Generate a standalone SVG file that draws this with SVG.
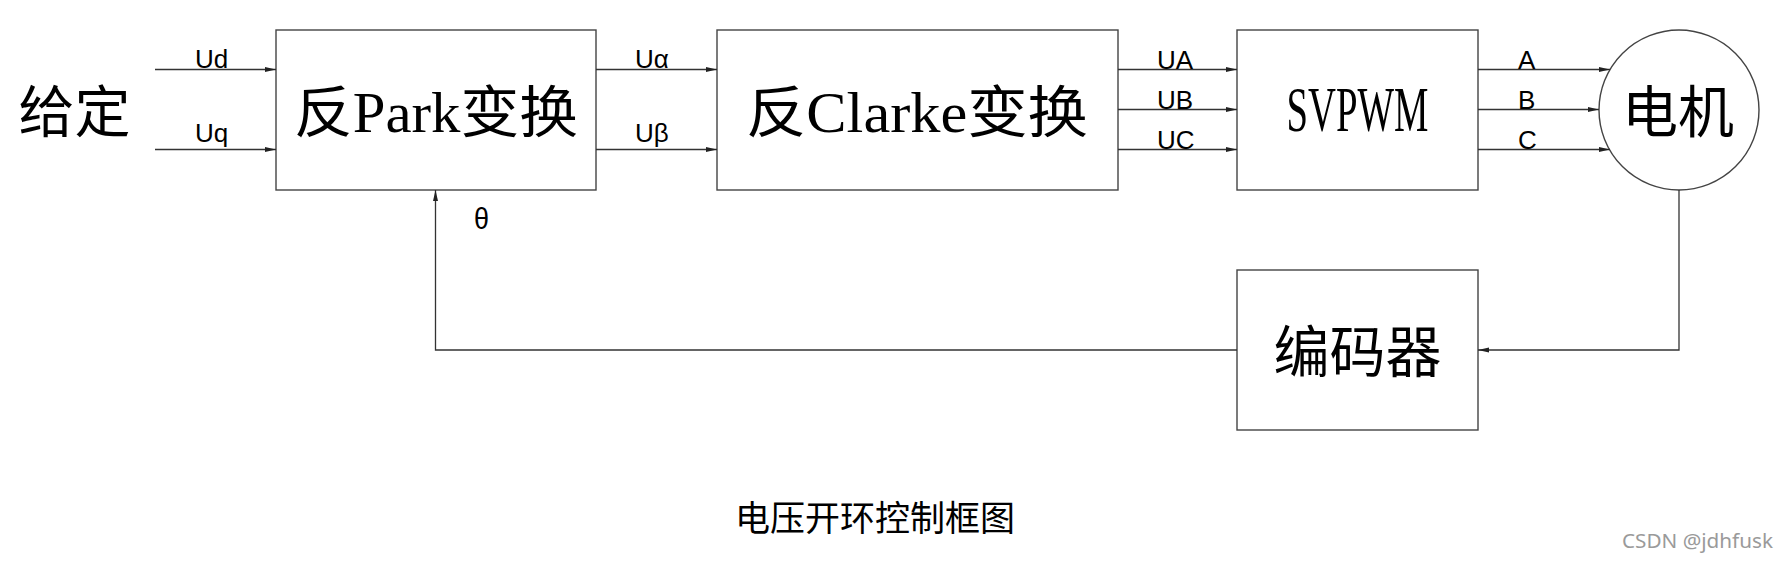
<svg xmlns="http://www.w3.org/2000/svg" width="1779" height="563" viewBox="0 0 1779 563">
  <defs>
    <marker id="arr" markerUnits="userSpaceOnUse" markerWidth="12" markerHeight="6" refX="11" refY="2.5" orient="auto">
      <path d="M0,0 L11,2.5 L0,5 z" fill="#222"/>
    </marker>
    <style>
      .box { fill: #fff; stroke: #444; stroke-width: 1.4; }
      .ln { fill: none; stroke: #333; stroke-width: 1.3; }
      .big { font-family: "Liberation Serif", "Noto Sans CJK SC", serif; font-size: 56px; fill: #000; text-anchor: middle; }
      .lbl { font-family: "Liberation Sans", Arial, sans-serif; font-size: 26px; fill: #000; }
      .title { font-family: "Noto Sans CJK SC", sans-serif; font-size: 35px; fill: #000; text-anchor: middle; }
      .wm { font-family: "Noto Sans", "Open Sans", sans-serif; font-size: 19px; fill: #9a9a9a; }
    </style>
  </defs>
  <rect width="1779" height="563" fill="#fff"/>

  <g id="given">
    <text class="big" x="74.5" y="132">给定</text>
  </g>

  <g id="inv-park">
    <rect class="box" x="276" y="30" width="320" height="160"/>
    <text class="big" x="436" y="132" textLength="284" lengthAdjust="spacingAndGlyphs">反Park变换</text>
  </g>

  <g id="inv-clarke">
    <rect class="box" x="717" y="30" width="401" height="160"/>
    <text class="big" x="917" y="132" textLength="342" lengthAdjust="spacingAndGlyphs">反Clarke变换</text>
  </g>

  <g id="svpwm">
    <rect class="box" x="1237" y="30" width="241" height="160"/>
    <text class="big" x="1357.5" y="131" style="font-size:64px" textLength="142" lengthAdjust="spacingAndGlyphs">SVPWM</text>
  </g>

  <g id="motor">
    <circle cx="1679" cy="110" r="80" fill="#fff" stroke="#444" stroke-width="1.4"/>
    <text class="big" x="1678" y="132">电机</text>
  </g>

  <g id="encoder">
    <rect class="box" x="1237" y="270" width="241" height="160"/>
    <text class="big" x="1357.5" y="372">编码器</text>
  </g>

  <g id="connectors">
    <line class="ln" x1="155" y1="69.5" x2="276" y2="69.5" marker-end="url(#arr)"/>
    <line class="ln" x1="155" y1="149.5" x2="276" y2="149.5" marker-end="url(#arr)"/>
    <line class="ln" x1="596" y1="69.5" x2="717" y2="69.5" marker-end="url(#arr)"/>
    <line class="ln" x1="596" y1="149.5" x2="717" y2="149.5" marker-end="url(#arr)"/>
    <line class="ln" x1="1118" y1="69.5" x2="1237" y2="69.5" marker-end="url(#arr)"/>
    <line class="ln" x1="1118" y1="109.5" x2="1237" y2="109.5" marker-end="url(#arr)"/>
    <line class="ln" x1="1118" y1="149.5" x2="1237" y2="149.5" marker-end="url(#arr)"/>
    <line class="ln" x1="1478" y1="69.5" x2="1610" y2="69.5" marker-end="url(#arr)"/>
    <line class="ln" x1="1478" y1="109.5" x2="1599" y2="109.5" marker-end="url(#arr)"/>
    <line class="ln" x1="1478" y1="149.5" x2="1610" y2="149.5" marker-end="url(#arr)"/>
    <polyline class="ln" points="1679,190 1679,350 1478,350" marker-end="url(#arr)"/>
    <polyline class="ln" points="1237,350 435.5,350 435.5,190" marker-end="url(#arr)"/>
  </g>

  <g id="labels">
    <text class="lbl" x="195" y="68">Ud</text>
    <text class="lbl" x="195" y="142">Uq</text>
    <text class="lbl" x="635" y="68">Uα</text>
    <text class="lbl" x="635" y="142">Uβ</text>
    <text class="lbl" x="1157" y="68.5">UA</text>
    <text class="lbl" x="1157" y="108.5">UB</text>
    <text class="lbl" x="1157" y="148.5">UC</text>
    <text class="lbl" x="1518" y="68.5">A</text>
    <text class="lbl" x="1518" y="108.5">B</text>
    <text class="lbl" x="1518" y="148.5">C</text>
    <text class="lbl" x="474" y="229" style="font-size:30px" textLength="15" lengthAdjust="spacingAndGlyphs">θ</text>
  </g>

  <text class="title" x="875" y="531">电压开环控制框图</text>
  <text class="wm" x="1622" y="548" textLength="151" lengthAdjust="spacingAndGlyphs">CSDN @jdhfusk</text>
</svg>
